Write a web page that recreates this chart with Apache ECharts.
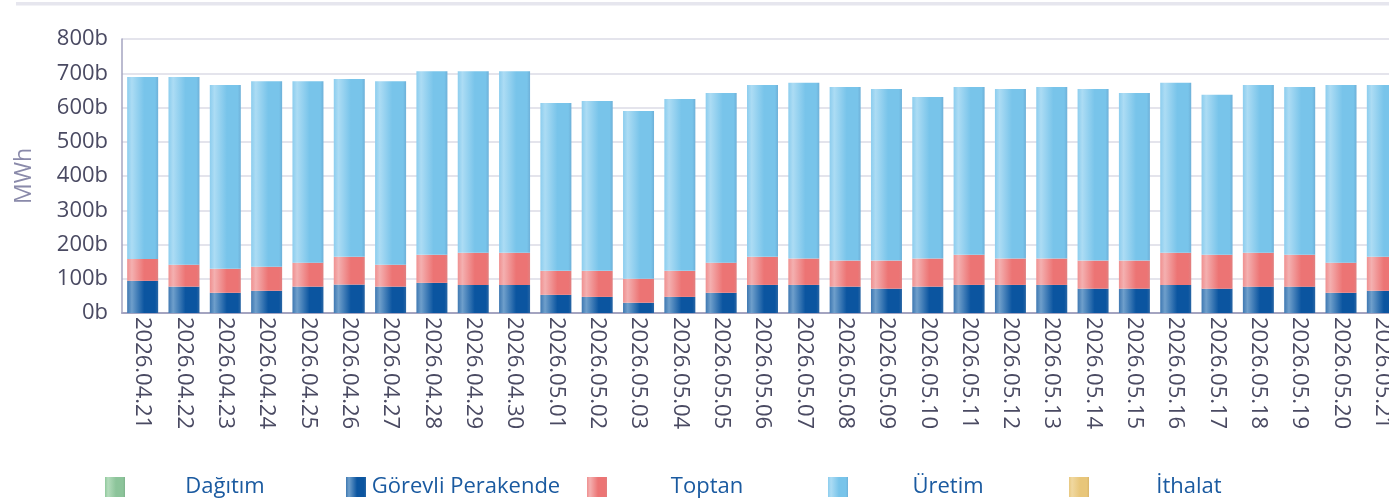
<!DOCTYPE html>
<html>
<head>
<meta charset="utf-8">
<script src="https://cdn.jsdelivr.net/npm/echarts@6/dist/echarts.min.js"></script>
<style>
  html, body { margin: 0; padding: 0; background: #fff; }
  #mainBox { width: 1389px; height: 500px; }
</style>
</head>
<body>
<div id="mainBox"></div>
<script>
// günler
var gunler = ['2026.04.21','2026.04.22','2026.04.23','2026.04.24','2026.04.25','2026.04.26','2026.04.27',
  '2026.04.28','2026.04.29','2026.04.30','2026.05.01','2026.05.02','2026.05.03','2026.05.04','2026.05.05',
  '2026.05.06','2026.05.07','2026.05.08','2026.05.09','2026.05.10','2026.05.11','2026.05.12','2026.05.13',
  '2026.05.14','2026.05.15','2026.05.16','2026.05.17','2026.05.18','2026.05.19','2026.05.20','2026.05.21'];

// bin MWh
var dagitim = [0,0,0,0,0,0,0,0,0,0,0,0,0,0,0,0,0,0,0,0,0,0,0,0,0,0,0,0,0,0,0];
var gorevli = [94,77,59,65,77,83,77,88,82,82,53,47,30,47,59,82,82,77,71,77,82,82,82,71,71,82,71,77,77,59,65];
var toptan  = [64,64,70,70,70,81,64,82,94,94,70,76,70,76,88,82,77,76,82,82,88,77,77,82,82,94,99,99,93,88,99];
var uretim  = [531,548,537,542,530,519,536,536,530,530,490,496,490,502,495,502,513,507,501,472,490,495,501,501,489,496,467,490,490,519,502];
var ithalat = [0,0,0,0,0,0,0,0,0,0,0,0,0,0,0,0,0,0,0,0,0,0,0,0,0,0,0,0,0,0,0];

var seriAdlari = ['Dağıtım', 'Görevli Perakende', 'Toptan', 'Üretim', 'İthalat'];
var yTicks = [0, 800, 100];

function barGrad(a, b, c, d) {
  return new echarts.graphic.LinearGradient(0, 0, 1, 0, [
    { offset: 0, color: a },
    { offset: 0.15, color: b },
    { offset: 0.55, color: c },
    { offset: 0.9, color: c },
    { offset: 1, color: d }
  ]);
}

var renkler = {
  'Dağıtım': barGrad('#8fc89c', '#b4dcbc', '#8cc49a', '#7fb28c'),
  'Görevli Perakende': barGrad('#3e78b2', '#6f9fcb', '#0b55a0', '#2a66a4'),
  'Toptan': barGrad('#ef9090', '#f4b0b0', '#ec7474', '#e08080'),
  'Üretim': barGrad('#8ccdee', '#acdcf4', '#78c4ea', '#6eb0d8'),
  'İthalat': barGrad('#e8c880', '#f0d8a0', '#e8c67a', '#d8b46a')
};

function seri(name, data) {
  return {
    name: name,
    type: 'bar',
    stack: 'toplam',
    barWidth: 31,
    data: data,
    itemStyle: { color: renkler[name] }
  };
}

// her lejant öğesi ayrı konumda (241px aralık)
var lejantlar = seriAdlari.map(function (ad, i) {
  return {
    left: 105 + i * 241,
    top: 476,
    padding: 0,
    icon: 'rect',
    itemWidth: 20,
    itemHeight: 20,
    data: [ad],
    formatter: function (n) { return '{t|' + n + '}'; },
    textStyle: {
      color: '#1a5aa0',
      fontSize: 22,
      rich: { t: { width: 190, align: 'center', fontSize: 22, color: '#1a5aa0' } }
    }
  };
});

var myChart = echarts.init(document.getElementById('mainBox'));

var option = {
  animation: false,
  textStyle: { fontFamily: 'Open Sans' },
  graphic: [{
    type: 'rect',
    shape: { x: 16, y: 2, width: 1373, height: 3.5 },
    style: { fill: '#e6e6ee' },
    silent: true
  }],
  grid: { left: 122, width: 1281, top: 39, bottom: 187, outerBoundsMode: 'none', containLabel: false },
  legend: lejantlar,
  xAxis: {
    type: 'category',
    data: gunler,
    axisTick: { show: false },
    axisLine: { lineStyle: { color: '#a4a4c0', width: 2 } },
    axisLabel: { rotate: -90, fontSize: 22, color: '#4a4a62', margin: 4, interval: 0 }
  },
  yAxis: {
    type: 'value',
    min: yTicks[0],
    max: yTicks[1],
    interval: yTicks[2],
    name: 'MWh',
    nameLocation: 'middle',
    nameGap: 86,
    nameTextStyle: { color: '#8a8aaa', fontSize: 23 },
    axisLine: { show: true, lineStyle: { color: '#a4a4c0', width: 1.5 } },
    axisTick: { show: false },
    splitLine: { lineStyle: { color: '#e4e4ec', width: 2 } },
    axisLabel: { formatter: '{value}b', fontSize: 22, color: '#4a4a62', margin: 14 }
  },
  series: [
    seri('Dağıtım', dagitim),
    seri('Görevli Perakende', gorevli),
    seri('Toptan', toptan),
    seri('Üretim', uretim),
    seri('İthalat', ithalat)
  ]
};

myChart.setOption(option);
</script>
</body>
</html>
